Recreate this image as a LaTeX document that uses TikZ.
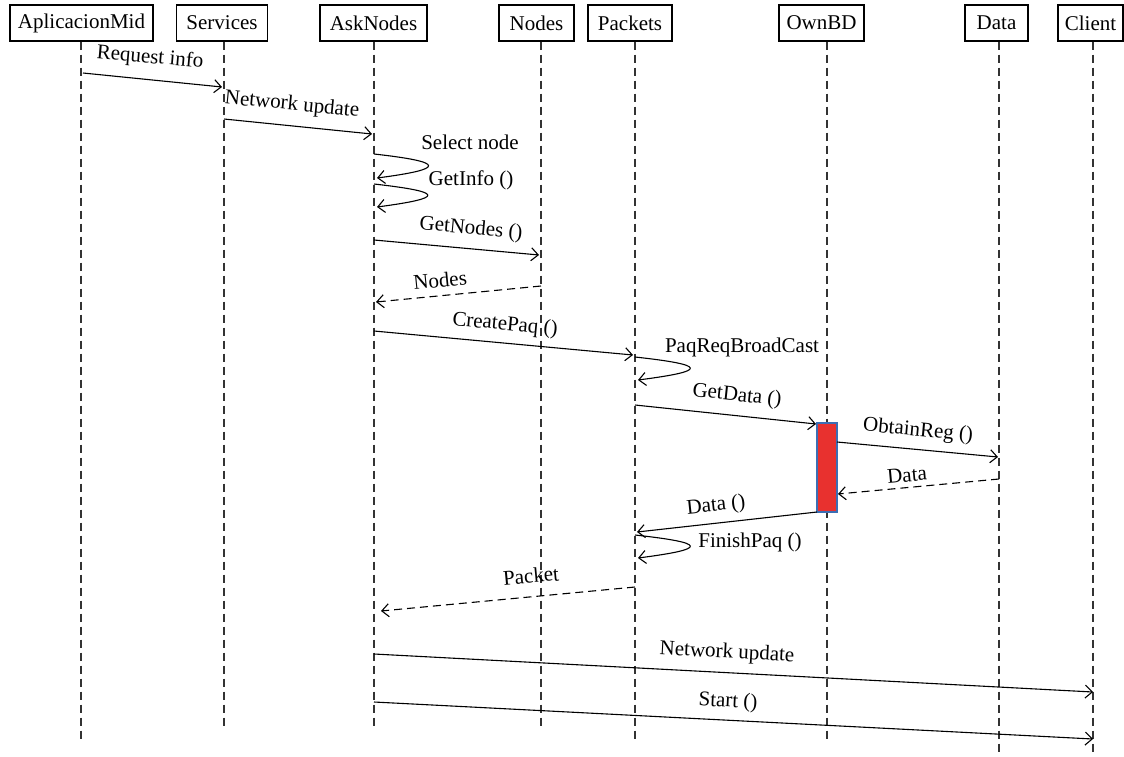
\documentclass[tikz,border=0pt]{standalone}
\usepackage{fontspec}
\setmainfont{Liberation Serif}
\usetikzlibrary{arrows.meta}
\definecolor{actRed}{RGB}{232,49,47}
\definecolor{actBlue}{RGB}{60,110,180}
\begin{document}
\begin{tikzpicture}[x=1pt,y=-1pt,
  actor/.style={draw, line width=1.1pt, minimum height=36pt, inner sep=0pt, font=\fontsize{21}{24}\selectfont},
  life/.style={line width=1.1pt, dash pattern=on 8pt off 5pt, black!80},
  msg/.style={line width=1.1pt, -{Straight Barb[length=7pt,width=13pt]}},
  ret/.style={msg, dash pattern=on 8pt off 5pt},
  lbl/.style={font=\fontsize{21}{24}\selectfont, inner sep=0pt},
]
\useasboundingbox (0,0) rectangle (1124,756);

% actors
\node[actor, minimum width=143pt] (apl) at (81.5,23) {AplicacionMid};
\node[actor, minimum width=91pt] (srv) at (222,23) {Services};
\node[actor, minimum width=107pt] (ask) at (373.5,23) {AskNodes};
\node[actor, minimum width=75pt] (nod) at (536.5,23) {Nodes};
\node[actor, minimum width=84pt] (pkt) at (630,23) {Packets};
\node[actor, minimum width=85pt] (own) at (821.5,23) {OwnBD};
\node[actor, minimum width=63pt] (dat) at (996.5,23) {Data};
\node[actor, minimum width=65pt] (cli) at (1090.5,23) {Client};

% lifeline ends
\coordinate (aplE) at (81,739);
\coordinate (srvE) at (224,727);
\coordinate (askE) at (374,727);
\coordinate (nodE) at (541,728);
\coordinate (pktE) at (635,740);
\coordinate (ownE) at (827,740);
\coordinate (datE) at (999,756);
\coordinate (cliE) at (1093,756);

\draw[life] (apl.south -| aplE) -- (aplE);
\draw[life] (srv.south -| srvE) -- (srvE);
\draw[life] (ask.south -| askE) -- (askE);
\draw[life] (nod.south -| nodE) -- (nodE);
\draw[life] (pkt.south -| pktE) -- (pktE);
\draw[life] (own.south -| ownE) -- (ownE);
\draw[life] (dat.south -| datE) -- (datE);
\draw[life] (cli.south -| cliE) -- (cliE);

% activation box
\node[draw=actBlue, fill=actRed, line width=1.2pt, minimum width=20pt, minimum height=89pt, inner sep=0pt] (act) at (827,467.5) {};

% message coordinates
\coordinate (m1a) at (83,73);   \coordinate (m1b) at (222,87);
\coordinate (m2a) at (224,119); \coordinate (m2b) at (372,134);
\coordinate (l1a) at (374,154); \coordinate (l1b) at (377,178);
\coordinate (l2a) at (374,184); \coordinate (l2b) at (377,207);
\coordinate (m3a) at (374,240); \coordinate (m3b) at (539,255);
\coordinate (m4a) at (541,286); \coordinate (m4b) at (376,302);
\coordinate (m5a) at (374,331); \coordinate (m5b) at (633,355);
\coordinate (l3a) at (635,357); \coordinate (l3b) at (638,380);
\coordinate (m6a) at (635,405); \coordinate (m6b) at (816,424);
\coordinate (m7a) at (837,442); \coordinate (m7b) at (998,457);
\coordinate (m8a) at (999,479); \coordinate (m8b) at (838,494);
\coordinate (m9a) at (817,512); \coordinate (m9b) at (637,532);
\coordinate (l4a) at (635,535); \coordinate (l4b) at (638,558);
\coordinate (m10a) at (635,587); \coordinate (m10b) at (381,611);
\coordinate (m11a) at (374,654); \coordinate (m11b) at (1093,692);
\coordinate (m12a) at (374,702); \coordinate (m12b) at (1093,739);

% messages
\draw[msg] (m1a) -- (m1b);
\draw[msg] (m2a) -- (m2b);
\draw[msg] (l1a) .. controls +(72,8) and +(69,-9) .. (l1b);
\draw[msg] (l2a) .. controls +(71,8) and +(68,-9) .. (l2b);
\draw[msg] (m3a) -- (m3b);
\draw[ret] (m4a) -- (m4b);
\draw[msg] (m5a) -- (m5b);
\draw[msg] (l3a) .. controls +(73,8) and +(70,-9) .. (l3b);
\draw[msg] (m6a) -- (m6b);
\draw[msg] (m7a) -- (m7b);
\draw[ret] (m8a) -- (m8b);
\draw[msg] (m9a) -- (m9b);
\draw[msg] (l4a) .. controls +(73,8) and +(70,-9) .. (l4b);
\draw[ret] (m10a) -- (m10b);
\draw[msg] (m11a) -- (m11b);
\draw[msg] (m12a) -- (m12b);

% labels
\node[lbl, rotate=-5] (t1) at (150,58) {Request info};
\node[lbl, rotate=-5.5] (t2) at (292,105) {Network update};
\node[lbl] (t3) at (470,142) {Select node};
\node[lbl] (t4) at (471,180) {GetInfo ()};
\node[lbl, rotate=-5.2] (t5) at (471,229) {GetNodes ()};
\node[lbl, rotate=5.6] (t6) at (440,280) {Nodes};
\node[lbl, rotate=-5.3] (t7) at (505,325) {CreatePaq ()};
\node[lbl] (t8) at (742,347) {PaqReqBroadCast};
\node[lbl, rotate=-6] (t9) at (737,396) {GetData ()};
\node[lbl, rotate=-5.3] (t10) at (918,431) {ObtainReg ()};
\node[lbl, rotate=5.3] (t11) at (907,475) {Data};
\node[lbl, rotate=6] (t12) at (716,506) {Data ()};
\node[lbl] (t13) at (750,542) {FinishPaq ()};
\node[lbl, rotate=5.4] (t14) at (531,576) {Packet};
\node[lbl, rotate=-3] (t15) at (727,653) {Network update};
\node[lbl, rotate=-2.9] (t16) at (728,702) {Start ()};
\end{tikzpicture}
\end{document}
